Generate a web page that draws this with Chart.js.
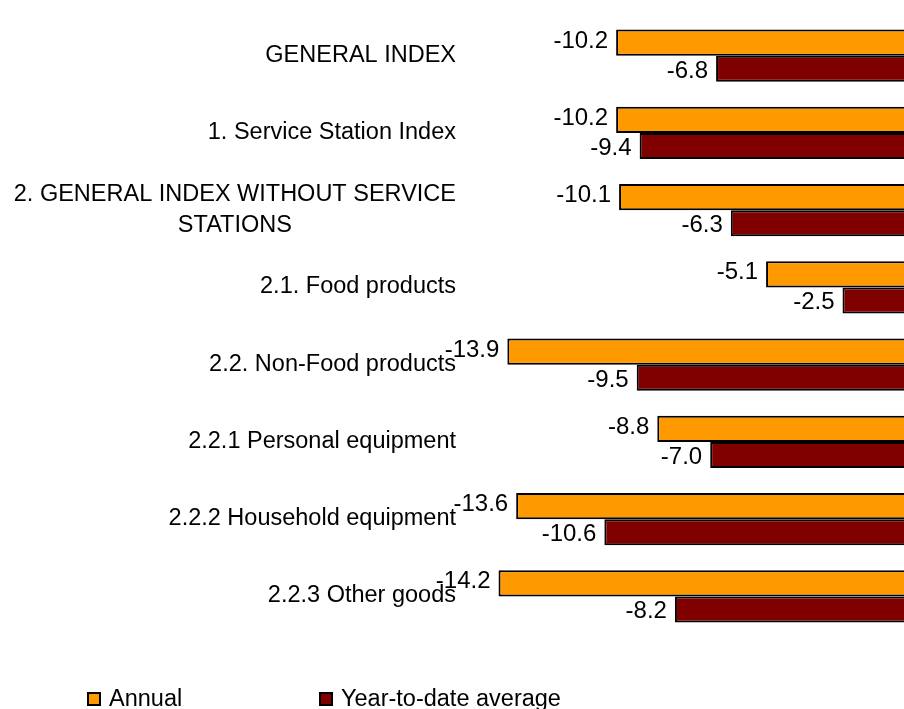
<!DOCTYPE html>
<html>
<head>
<meta charset="utf-8">
<script src="https://cdn.jsdelivr.net/npm/chart.js@4.4.1/dist/chart.umd.min.js"></script>
<style>
  html, body { margin: 0; padding: 0; background: #ffffff; overflow: hidden; }
  #wrap { position: absolute; left: 0; top: 0; width: 904px; height: 709px; overflow: hidden; }
  canvas { position: absolute; left: 0; top: 0; }
</style>
</head>
<body>
<div id="wrap"><canvas id="c" width="920" height="709"></canvas></div>
<script>
// ---- data ----
const categories = [
  ['GENERAL INDEX'],
  ['1. Service Station Index'],
  ['2. GENERAL INDEX WITHOUT SERVICE', 'STATIONS'],
  ['2.1. Food products'],
  ['2.2. Non-Food products'],
  ['2.2.1 Personal equipment'],
  ['2.2.2 Household equipment'],
  ['2.2.3 Other goods']
];
const seriesNames = ['Annual', 'Year-to-date average'];
const annualValues = [-10.2, -10.2, -10.1, -5.1, -13.9, -8.8, -13.6, -14.2];
const ytdValues    = [-6.8, -9.4, -6.3, -2.5, -9.5, -7.0, -10.6, -8.2];

// ---- styles ----
const FONT = '23.5px "Liberation Sans", Arial, sans-serif';
const VFONT = '24px "Liberation Sans", Arial, sans-serif';
const colors = ['#FF9900', '#800000'];
const labelOffsets = [5, 9];      // baseline offset of value labels per series
const legendX = [87, 319];

const labelPlugin = {
  id: 'customLabels',
  afterDatasetsDraw(chart) {
    const ctx = chart.ctx;
    const yScale = chart.scales.y;
    ctx.save();
    ctx.font = FONT;
    ctx.fillStyle = '#000000';
    // category labels: block right-aligned, lines centred within block
    const rightEdge = 456;
    const lineH = 31;
    chart.data.labels.forEach((lines, i) => {
      const cy = yScale.getPixelForValue(i);
      const widths = lines.map(l => ctx.measureText(l).width);
      const blockW = Math.max(...widths);
      const n = lines.length;
      lines.forEach((l, k) => {
        const base = cy + 6 + (k - (n - 1) / 2) * lineH;
        const x = rightEdge - blockW / 2 - widths[k] / 2;
        ctx.textAlign = 'left';
        ctx.textBaseline = 'alphabetic';
        ctx.fillText(l, x, base);
      });
    });
    // value labels left of bars
    ctx.font = VFONT;
    chart.data.datasets.forEach((ds, di) => {
      const meta = chart.getDatasetMeta(di);
      meta.data.forEach((el, i) => {
        const v = ds.data[i];
        ctx.textAlign = 'right';
        ctx.textBaseline = 'alphabetic';
        ctx.fillText(v.toFixed(1), el.x - 8, el.y + labelOffsets[di]);
      });
    });
    // legend
    ctx.font = FONT;
    chart.data.datasets.forEach((ds, di) => {
      const x = legendX[di];
      ctx.fillStyle = ds.backgroundColor;
      ctx.fillRect(x, 692, 14, 14);
      ctx.lineWidth = 2;
      ctx.strokeStyle = '#000000';
      ctx.strokeRect(x + 1, 693, 12, 12);
      ctx.fillStyle = '#000000';
      ctx.textAlign = 'left';
      ctx.fillText(ds.label, x + 22, 706);
    });
    ctx.restore();
  }
};

new Chart(document.getElementById('c'), {
  type: 'bar',
  data: {
    labels: categories,
    datasets: [
      { label: seriesNames[0], data: annualValues, backgroundColor: colors[0],
        borderColor: '#000000', borderWidth: 2, borderSkipped: false },
      { label: seriesNames[1], data: ytdValues, backgroundColor: colors[1],
        borderColor: '#000000', borderWidth: 2, borderSkipped: false }
    ]
  },
  options: {
    indexAxis: 'y',
    responsive: false,
    animation: false,
    devicePixelRatio: 1,
    categoryPercentage: 0.675,
    barPercentage: 1.0,
    layout: { padding: { left: 475, right: 4, top: 17, bottom: 74 } },
    scales: {
      x: { display: false, min: -15, max: 0 },
      y: { display: false }
    },
    plugins: { legend: { display: false }, tooltip: { enabled: false } }
  },
  plugins: [labelPlugin]
});
</script>
</body>
</html>
